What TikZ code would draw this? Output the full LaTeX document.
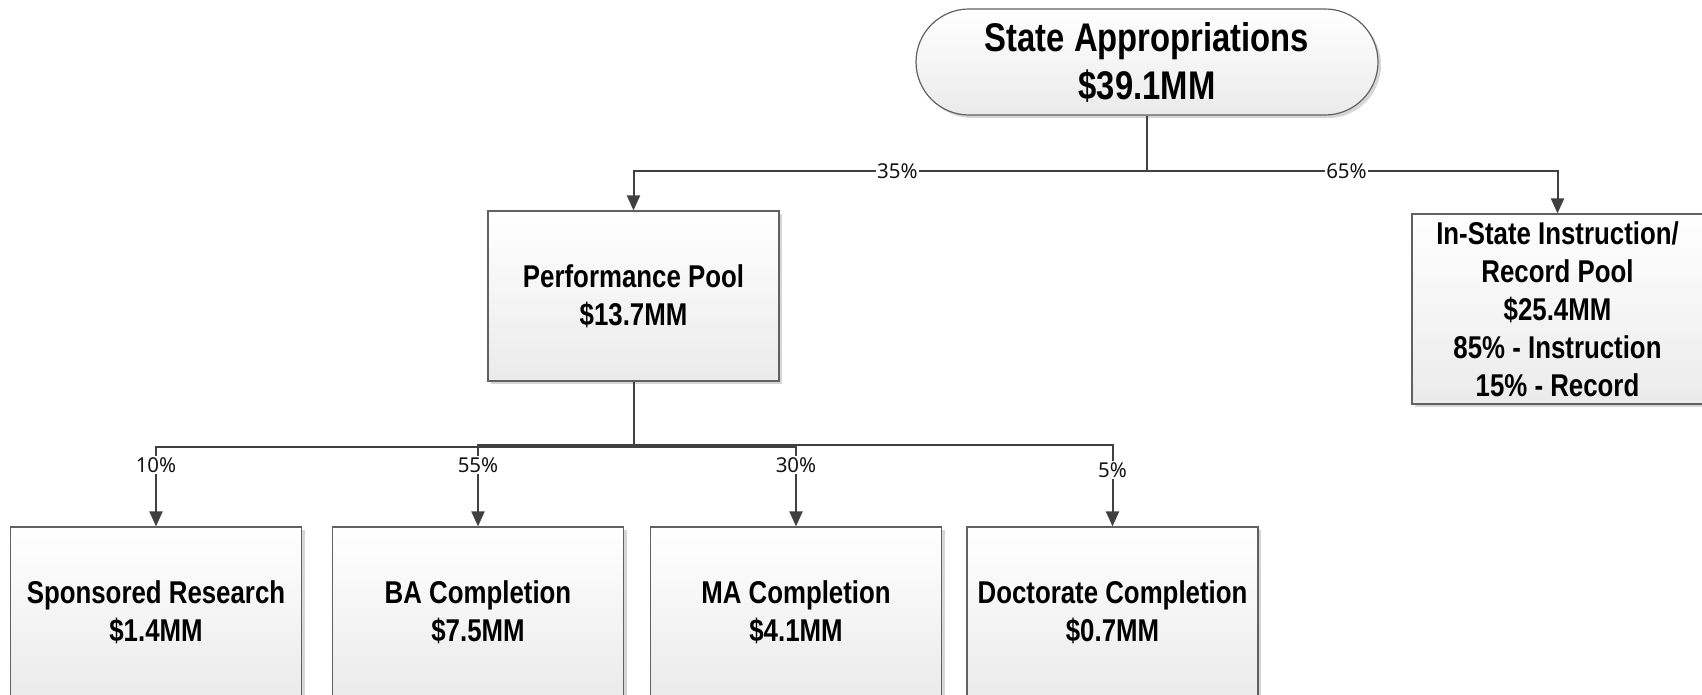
\documentclass[tikz,border=0pt]{standalone}
\usepackage{fontspec}
\newfontfamily\boxfont{Liberation Sans}[FakeStretch=0.82]
\newfontfamily\labfont{Noto Sans}
\usetikzlibrary{arrows.meta,shapes.misc,shadows}
\begin{document}
\begin{tikzpicture}[x=1pt,y=-1pt,
  boxshade/.style={draw=black!62, line width=1.2pt, top color=white, bottom color=black!8,
    drop shadow={shadow xshift=3pt, shadow yshift=-3pt, fill=black!16, opacity=1}},
  box/.style={boxshade, rectangle, minimum width=291pt, minimum height=170pt, inner sep=0pt,
    align=center, font=\boxfont\bfseries\fontsize{31.5}{38}\selectfont},
  topbox/.style={boxshade, rounded rectangle, minimum width=462pt, minimum height=106pt, inner sep=0pt,
    align=center, font=\boxfont\bfseries\fontsize{40}{48}\selectfont},
  conn/.style={draw=black!75, line width=2pt, -{Triangle[width=13pt,length=15pt]}},
  plain/.style={draw=black!75, line width=2pt},
  lab/.style={fill=white, inner sep=1.5pt, font=\labfont\fontsize{20.5}{24}\selectfont, text=black!92}
]
\useasboundingbox (0,0) rectangle (1702,694);
\clip (0,0) rectangle (1702,694);

\node[topbox] (top) at (1147,62) {State Appropriations\\\$39.1MM};
\node[box] (perf) at (633.5,296) {Performance Pool\\\$13.7MM};
\node[box, minimum height=190pt] (ins) at (1557.5,309) {In-State Instruction/\\Record Pool\\\$25.4MM\\85\% - Instruction\\15\% - Record};

\node[box] (sr) at (156,612) {Sponsored Research\\\$1.4MM};
\node[box] (ba) at (478,612) {BA Completion\\\$7.5MM};
\node[box] (ma) at (796,612) {MA Completion\\\$4.1MM};
\node[box] (dc) at (1112.5,612) {Doctorate Completion\\\$0.7MM};

\coordinate (j1) at (1147,171);
\coordinate (j2) at (633.5,446);
\coordinate (j2a) at (633.5,447);
\coordinate (j2b) at (633.5,445);

\draw[plain] (top.south) -- (j1);
\draw[conn] (j1) -| node[lab,pos=0.243]{35\%} (perf.north);
\draw[conn] (j1) -| node[lab,pos=0.243]{65\%} (ins.north);

\draw[plain] (perf.south) -- (j2);
\draw[conn] (j2a) -| node[lab,pos=0.6125]{10\%} (sr.north);
\draw[conn] (j2b) -| node[lab,pos=0.622]{55\%} (ba.north);
\draw[conn] (j2a) -| node[lab,pos=0.6125]{30\%} (ma.north);
\draw[conn] (j2b) -| node[lab,pos=0.652]{5\%} (dc.north);
\end{tikzpicture}
\end{document}
